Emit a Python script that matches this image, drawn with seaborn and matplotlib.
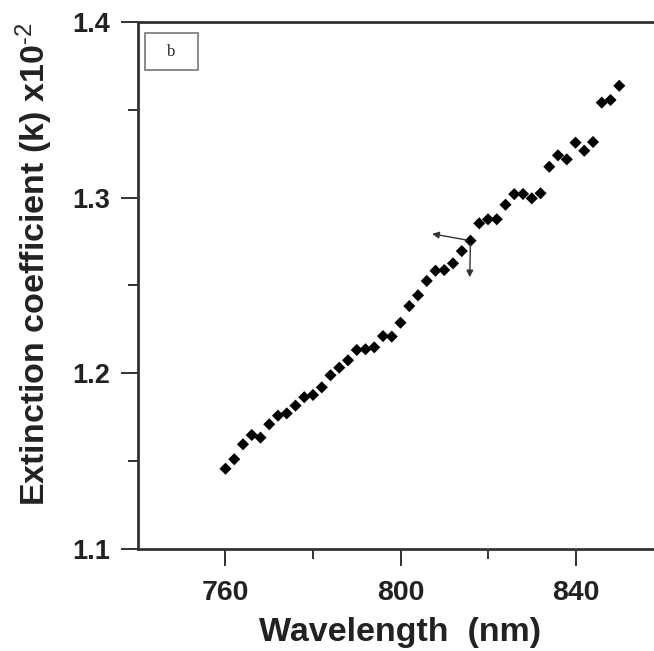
# Extinction coefficient vs wavelength (panel b)
import numpy as np
import pandas as pd
import matplotlib
matplotlib.use("Agg")
import matplotlib.pyplot as plt
from matplotlib.patches import Rectangle
import seaborn as sns

# data
wavelength = [760, 762, 764, 766, 768, 770, 772, 774, 776, 778,
              780, 782, 784, 786, 788, 790, 792, 794, 796, 798,
              800, 802, 804, 806, 808, 810, 812, 814, 816, 818,
              820, 822, 824, 826, 828, 830, 832, 834, 836, 838,
              840, 842, 844, 846, 848, 850]
k_values = [1.1457, 1.1511, 1.1596, 1.1649, 1.1634, 1.1710, 1.1759, 1.1772, 1.1816, 1.1864,
            1.1877, 1.1920, 1.1989, 1.2032, 1.2074, 1.2133, 1.2137, 1.2148, 1.2212, 1.2209,
            1.2288, 1.2383, 1.2444, 1.2526, 1.2584, 1.2588, 1.2626, 1.2696, 1.2755, 1.2854,
            1.2877, 1.2877, 1.2960, 1.3020, 1.3021, 1.2996, 1.3025, 1.3176, 1.3241, 1.3218,
            1.3313, 1.3267, 1.3317, 1.3541, 1.3556, 1.3637]
x_ticks = [760, 800, 840]
y_ticks = [1.1, 1.2, 1.3, 1.4]
panel_label = "b"

df = pd.DataFrame({"wavelength": wavelength, "k": k_values})

sns.set_style("ticks")
plt.rcParams["font.family"] = ["Liberation Sans", "DejaVu Sans"]
plt.rcParams["mathtext.fontset"] = "custom"
plt.rcParams["mathtext.rm"] = "Liberation Sans"
plt.rcParams["mathtext.default"] = "regular"

fig = plt.figure(figsize=(6.54, 6.51), dpi=100)
ax = fig.add_axes([0.211, 0.1567, 0.8028, 0.8095])

sns.scatterplot(data=df, x="wavelength", y="k", marker="D", s=38,
                color="black", edgecolor="none", ax=ax)

ax.set_xlim(740, 860)
ax.set_ylim(1.1, 1.4)
ax.set_xticks(x_ticks)
ax.set_xticks([780, 820], minor=True)
ax.set_yticks(y_ticks)
ax.set_yticks([1.15, 1.25, 1.35], minor=True)
ax.set_yticklabels([f"{v:.1f}" for v in y_ticks])

for s in ["left", "top", "bottom"]:
    ax.spines[s].set_linewidth(2.0)
    ax.spines[s].set_color("#333333")
ax.spines["right"].set_visible(False)

ax.tick_params(axis="both", which="major", direction="out", length=12, width=1.4,
               color="#333333", labelsize=19.5)
ax.tick_params(axis="x", which="major", pad=10.5, labelsize=20.5)
ax.tick_params(axis="y", which="major", pad=8.4)
ax.tick_params(axis="both", which="minor", direction="out", length=7, width=1.4,
               color="#333333")
for lab in ax.get_xticklabels() + ax.get_yticklabels():
    lab.set_fontweight("bold")
    lab.set_color("#222222")

ax.set_xlabel("Wavelength  (nm)", fontsize=24.5, fontweight="bold", labelpad=8,
              color="#222222")
ax.set_ylabel(r"Extinction coefficient (k) x10$^{\text{-2}}$", fontsize=24.5,
              fontweight="bold", color="#222222")
ax.yaxis.set_label_coords(-0.158, 0.54)

# panel label box
ax.add_patch(Rectangle((0.0133, 0.909), 0.101, 0.0702, transform=ax.transAxes,
                       fill=False, edgecolor="#777777", lw=1.2))
ax.text(0.0638, 0.944, panel_label, transform=ax.transAxes, ha="center", va="center",
        fontsize=12, family="Liberation Serif")

# arrows from the point at 816 nm
i816 = wavelength.index(816)
start = (wavelength[i816], k_values[i816])
ax.annotate("", xy=(806.6, 1.2797), xytext=start,
            arrowprops=dict(arrowstyle="-|>", color="#333333", lw=1, mutation_scale=10))
ax.annotate("", xy=(815.8, 1.2531), xytext=start,
            arrowprops=dict(arrowstyle="-|>", color="#333333", lw=1, mutation_scale=10))

fig.savefig("out.png", dpi=100)
